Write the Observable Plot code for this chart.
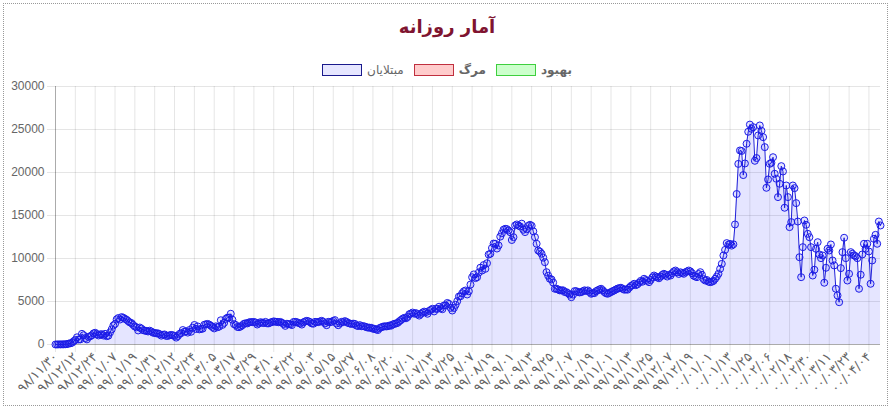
<!DOCTYPE html>
<html>
<head>
<meta charset="utf-8">
<script src="https://cdn.jsdelivr.net/npm/d3@7"></script>
<script src="https://cdn.jsdelivr.net/npm/@observablehq/plot@0.6"></script>
<style>
  html, body { margin: 0; padding: 0; background: #fff; }
  #wrap { position: relative; width: 894px; height: 413px; overflow: hidden; }
  #frame { position: absolute; left: 3px; top: 3px; width: 885px; height: 403px; border: 1px dotted #999; box-sizing: border-box; pointer-events: none; }
  #title { position: absolute; top: 14px; left: 0; width: 894px; text-align: center; font: bold 18px 'DejaVu Sans', sans-serif; color: #7f1430; line-height: 26px; }
  #legend { position: absolute; top: 63px; left: 0; width: 894px; display: flex; justify-content: center; direction: rtl; gap: 10px; font: 12px 'DejaVu Sans', sans-serif; color: #666; line-height: 14px; }
  .item { display: flex; align-items: center; gap: 5px; }
  .box { display: inline-block; width: 40px; height: 12px; box-sizing: border-box; border-width: 1px; border-style: solid; }
  #chart { position: absolute; top: 76px; left: 0; }
</style>
</head>
<body>
<div id="wrap">
  <div id="title"></div>
  <div id="legend"></div>
  <div id="chart"></div>
  <div id="frame"></div>
</div>
<script>
const titleText = "آمار روزانه";
const legendNames = ["بهبود", "مرگ", "مبتلایان"];
const legendBorders = ["#3fcf3f", "#c0303f", "#1a1a8c"];
const legendFills = ["#ccffcc", "#ffcccc", "#e6e6ff"];
const legendWeights = [700, 700, 400];

// x-axis tick labels (every 12th day)
const tickLabels = ["۹۸/۱۱/۳۰","۹۸/۱۲/۱۲","۹۸/۱۲/۲۴","۹۹/۰۱/۰۷","۹۹/۰۱/۱۹","۹۹/۰۱/۳۱","۹۹/۰۲/۱۲","۹۹/۰۲/۲۴","۹۹/۰۳/۰۵","۹۹/۰۳/۱۷","۹۹/۰۳/۲۹","۹۹/۰۴/۱۰","۹۹/۰۴/۲۲","۹۹/۰۵/۰۳","۹۹/۰۵/۱۵","۹۹/۰۵/۲۷","۹۹/۰۶/۰۸","۹۹/۰۶/۲۰","۹۹/۰۷/۰۱","۹۹/۰۷/۱۳","۹۹/۰۷/۲۵","۹۹/۰۸/۰۷","۹۹/۰۸/۱۹","۹۹/۰۹/۰۱","۹۹/۰۹/۱۳","۹۹/۰۹/۲۵","۹۹/۱۰/۰۷","۹۹/۱۰/۱۹","۹۹/۱۱/۰۱","۹۹/۱۱/۱۳","۹۹/۱۱/۲۵","۹۹/۱۲/۰۷","۹۹/۱۲/۱۹","۰۰/۰۱/۰۱","۰۰/۰۱/۱۳","۰۰/۰۱/۲۵","۰۰/۰۲/۰۶","۰۰/۰۲/۱۸","۰۰/۰۲/۳۰","۰۰/۰۳/۱۱","۰۰/۰۳/۲۳","۰۰/۰۴/۰۴"];
const labelStep = 12;

const yTicks = [0, 5000, 10000, 15000, 20000, 25000, 30000];

// daily infected (مبتلایان), one value per day from ۹۸/۱۱/۳۰
const cases = [
  2, 3, 13, 10, 15, 18, 34, 44, 106, 143,
  205, 385, 523, 835, 586, 591, 1234, 1076, 743, 595,
  881, 958, 1075, 1289, 1365, 1209, 1053, 1178, 1192, 1046,
  1237, 966, 1028, 1411, 1762, 2206, 2389, 2926, 3076, 2901,
  3186, 3110, 2987, 2875, 2715, 2560, 2483, 2274, 2089, 1997,
  1634, 1972, 1837, 1657, 1617, 1574, 1512, 1606, 1499, 1374,
  1343, 1294, 1297, 1194, 1030, 1134, 1168, 991, 1006, 1073,
  1112, 1073, 993, 802, 976, 1223, 1323, 1680, 1485, 1529,
  1383, 1683, 1481, 1958, 2268, 1808, 2102, 1757, 1806, 1841,
  2294, 2346, 2392, 2311, 2180, 2023, 1869, 2111, 2011, 2080,
  2819, 2282, 2516, 2979, 3117, 3134, 3574, 2886, 2364, 2269,
  2043, 2011, 2095, 2238, 2410, 2472, 2449, 2565, 2612, 2596,
  2615, 2563, 2322, 2445, 2595, 2536, 2489, 2628, 2456, 2457,
  2560, 2613, 2691, 2637, 2637, 2586, 2625, 2521, 2381, 2166,
  2414, 2379, 2349, 2262, 2621, 2636, 2598, 2502, 2434, 2316,
  2582, 2685, 2751, 2697, 2604, 2450, 2416, 2634, 2598, 2602,
  2685, 2751, 2634, 2450, 2245, 2634, 2598, 2634, 2751, 2836,
  2450, 2245, 2450, 2634, 2598, 2720, 2634, 2500, 2444, 2385,
  2425, 2400, 2206, 2145, 2257, 2125, 2133, 2100, 2023, 1960,
  1960, 1942, 1828, 1820, 1741, 1682, 1905, 1998, 2063, 2125,
  2100, 2125, 2209, 2187, 2332, 2400, 2450, 2521, 2705, 2846,
  2998, 3100, 3049, 3204, 3521, 3605, 3712, 3582, 3650, 3521,
  3362, 3553, 3712, 3825, 3760, 3574, 3902, 4019, 4151, 3846,
  4150, 4142, 4392, 4206, 4103, 4542, 4540, 4830, 4721, 4258,
  3950, 4251, 4616, 5039, 5580, 5616, 5960, 6191, 6280, 5814,
  6191, 6968, 7820, 8150, 7719, 7820, 8364, 8932, 8600, 9236,
  8800, 9450, 10463, 10550, 11223, 11737, 11710, 11157, 11517, 12543,
  12931, 13352, 13450, 13421, 13260, 13053, 12151, 12480, 13843, 13960,
  13843, 13721, 14051, 13341, 13070, 13402, 13800, 13922, 13800, 13160,
  12480, 11710, 10930, 10800, 10550, 10100, 9570, 8410, 8000, 7640,
  7560, 7200, 6480, 6480, 6400, 6290, 6290, 6300, 6100, 6090,
  5960, 5800, 5500, 5800, 6210, 6200, 6100, 6050, 6090, 6200,
  6300, 6220, 6290, 6100, 5900, 5960, 5980, 6200, 6300, 6400,
  6480, 6300, 6100, 5950, 5900, 6000, 6100, 6200, 6290, 6400,
  6500, 6550, 6600, 6480, 6370, 6400, 6370, 6600, 6800, 6900,
  7060, 6900, 7000, 7200, 7400, 7300, 7640, 7500, 7400, 7250,
  7500, 7800, 8020, 7900, 7800, 7700, 7900, 8100, 8220, 8100,
  7900, 8100, 8020, 8300, 8500, 8600, 8400, 8200, 8400, 8300,
  8220, 8400, 8500, 8600, 8500, 8300, 8000, 7900, 7830, 8200,
  8410, 8100, 7600, 7440, 7500, 7300, 7250, 7300, 7400, 7640,
  7900, 8220, 8800, 9380, 10350, 11000, 11790, 11600, 11700, 11500,
  11650, 13960, 17500, 21000, 22560, 22500, 19700, 21050, 23340, 24740,
  25570, 25080, 25270, 21360, 21680, 24310, 25470, 24850, 24110, 22950,
  18220, 19190, 21010, 21130, 21780, 19850, 19270, 17140, 18690, 20740,
  20120, 15900, 18490, 17140, 13650, 14230, 18490, 18180, 16440, 14300,
  10150, 7830, 11320, 14420, 13920, 12870, 12480, 11320, 8020, 8690,
  11130, 11900, 10470, 10040, 10350, 7180, 8920, 11130, 10930, 11630,
  9770, 9190, 6480, 5700, 4920, 8880, 10740, 12410, 10040, 7440,
  8220, 10740, 10550, 10350, 10270, 10040, 6480, 8110, 10470, 11710,
  11130, 11710, 10820, 7060, 9770, 12290, 12750, 11710, 14300, 13840
];

document.getElementById("title").textContent = titleText;
const legend = document.getElementById("legend");
legendNames.forEach((name, k) => {
  const item = document.createElement("span");
  item.className = "item";
  const lbl = document.createElement("span");
  lbl.textContent = name;
  lbl.style.fontWeight = legendWeights[k];
  const box = document.createElement("span");
  box.className = "box";
  box.style.borderColor = legendBorders[k];
  box.style.background = legendFills[k];
  item.appendChild(lbl);
  item.appendChild(box);
  legend.appendChild(item);
});

const data = cases.map((v, i) => ({i, v}));
const tickIdx = tickLabels.map((_, k) => k * labelStep);

const chart = Plot.plot({
  width: 894,
  height: 332,
  marginLeft: 55,
  marginRight: 14,
  marginTop: 10,
  marginBottom: 64,
  x: {type: "linear", domain: [0, cases.length - 1], label: null},
  y: {domain: [0, 30000], label: null},
  style: {fontFamily: "'DejaVu Sans', sans-serif", fontSize: "12px", color: "#666", background: "transparent", overflow: "visible"},
  marks: [
    Plot.gridY(yTicks, {stroke: "#000", strokeOpacity: 0.1}),
    Plot.gridX(tickIdx, {stroke: "#000", strokeOpacity: 0.1}),
    Plot.axisY(yTicks, {label: null, tickSize: 8, tickPadding: 3, stroke: "#000", strokeOpacity: 0.1, fill: "#666", fontSize: 12, fontFamily: "'Liberation Sans', Arial, sans-serif", tickFormat: d => String(d)}),
    Plot.axisX(tickIdx, {label: null, tickSize: 8, tickPadding: 2, tickRotate: -45, stroke: "#000", strokeOpacity: 0.1, fill: "#666", fontSize: 13, letterSpacing: "0.5px", tickFormat: d => tickLabels[tickIdx.indexOf(d)]}),
    Plot.areaY(data, {x: "i", y: "v", fill: "#0000ff", fillOpacity: 0.1}),
    Plot.ruleX([0], {stroke: "#000", strokeOpacity: 0.25}),
    Plot.ruleY([0], {stroke: "#000", strokeOpacity: 0.25}),
    Plot.lineY(data, {x: "i", y: "v", stroke: "#2020d8", strokeWidth: 1}),
    Plot.dot(data, {x: "i", y: "v", r: 3.5, stroke: "#1c1ce6", strokeWidth: 1, fill: "#0000ff", fillOpacity: 0.1})
  ]
});
document.getElementById("chart").appendChild(chart);
</script>
</body>
</html>
